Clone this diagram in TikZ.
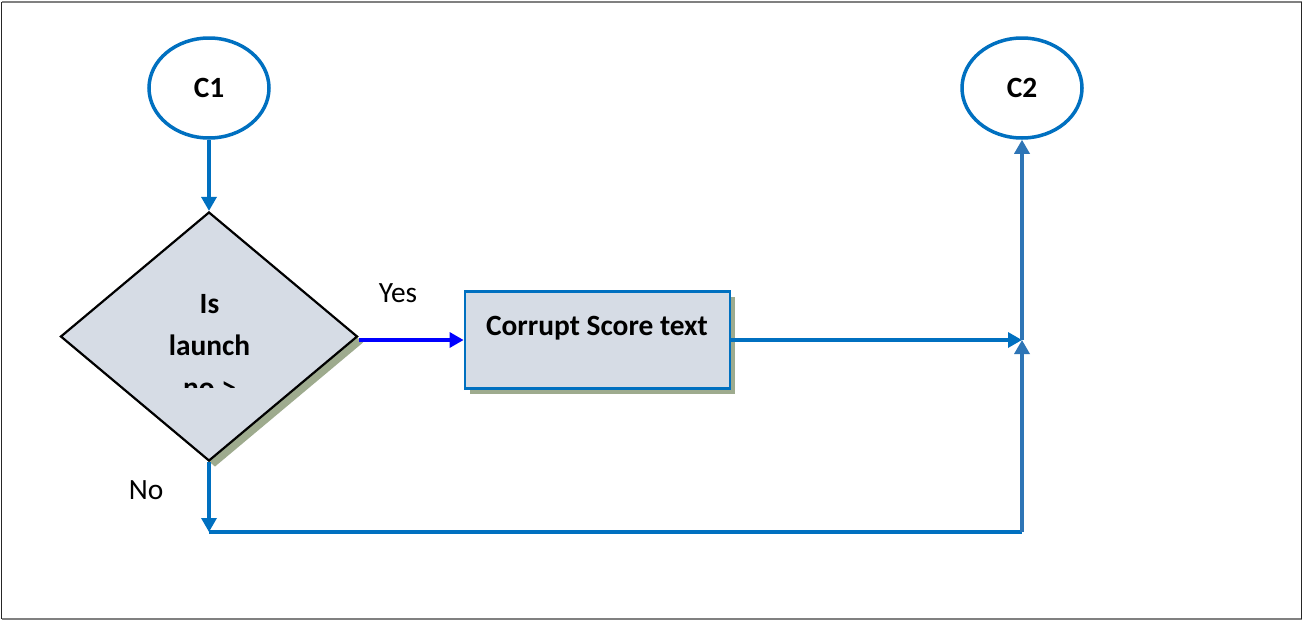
\documentclass[tikz,border=0pt]{standalone}
\usepackage{fontspec}
\setmainfont{Carlito}
\usetikzlibrary{shapes.geometric,arrows.meta,shadows}

\definecolor{flowblue}{RGB}{0,112,192}
\definecolor{riseblue}{RGB}{46,117,182}
\definecolor{boxfill}{RGB}{214,220,229}
\definecolor{shade}{RGB}{158,171,142}

\tikzset{
  connector/.style={draw=flowblue, line width=1.65pt},
  tip/.style={-{Triangle[length=7pt,width=7.5pt]}},
  terminal/.style={ellipse, draw=flowblue, line width=1.75pt, fill=white,
    minimum width=60pt, minimum height=50pt, inner sep=0pt,
    font=\fontsize{14.7}{17}\selectfont\bfseries},
  decision/.style={diamond, draw=black, line width=1.1pt, fill=boxfill,
    minimum width=148.5pt, minimum height=124.5pt, inner sep=0pt,
    drop shadow={shadow xshift=3pt, shadow yshift=-3pt, fill=shade, opacity=1}},
  process/.style={rectangle, draw=flowblue, line width=1.4pt, fill=boxfill,
    minimum width=132.5pt, minimum height=48.5pt, inner sep=0pt,
    drop shadow={shadow xshift=2.5pt, shadow yshift=-2.5pt, fill=shade, opacity=1}},
  boldtext/.style={inner sep=0pt, anchor=base, font=\fontsize{14.7}{17}\selectfont\bfseries},
  plaintext/.style={inner sep=0pt, anchor=base, font=\fontsize{14.7}{17}\selectfont},
}

\begin{document}
\begin{tikzpicture}[x=0.5pt, y=-0.5pt]
  \useasboundingbox (0,0) rectangle (1306,621);
  \fill[white] (0,0) rectangle (1306,621);

  % frame: grey top and bottom, dark sides
  \draw[gray, line width=1.25pt] (1.5,2) -- (1301.5,2);
  \draw[gray, line width=1.25pt] (1.5,619) -- (1301.5,619);
  \draw[black!85, line width=0.75pt] (1.5,2) -- (1.5,619);
  \draw[black!85, line width=0.75pt] (1301.5,2) -- (1301.5,619);

  % shapes
  \node[terminal] (c1) at (209,88) {C1};
  \node[terminal] (c2) at (1022,88) {C2};
  \node[decision] (dec) at (209,336.5) {};
  \node[process] (box) at (597.5,340) {};

  % decision text, cut off at the bottom of its text area
  \begin{scope}
    \clip (100,270) rectangle (320,387);
    \node[boldtext] (q1) at (209.5,313) {Is};
    \node[boldtext] (q2) at (209.5,355) {launch};
    \node[boldtext] (q3) at (209.5,397) {no >};
  \end{scope}
  \node[boldtext] (boxtext) at (597,335) {Corrupt Score text};

  % branch labels
  \node[plaintext] (yes) at (398,302) {Yes};
  \node[plaintext] (no) at (146,499) {No};

  % junction points
  \coordinate (down) at (209,532);
  \coordinate (corner) at (1022,532);
  \coordinate (merge) at (1022,340);

  % connectors
  \draw[connector, tip] (c1.south) -- (dec.north);
  \draw[draw=blue, line width=1.65pt, tip] (box.west -| dec.east) -- (box.west);
  \draw[connector, tip] (box.east) -- (merge);
  \draw[connector, tip] (dec.south) -- (down);
  \draw[connector] (down) -- (corner);
  \draw[draw=riseblue, line width=1.65pt, tip] (corner) -- (merge);
  \draw[draw=riseblue, line width=1.65pt, tip] (merge) -- (c2.south);
\end{tikzpicture}
\end{document}
